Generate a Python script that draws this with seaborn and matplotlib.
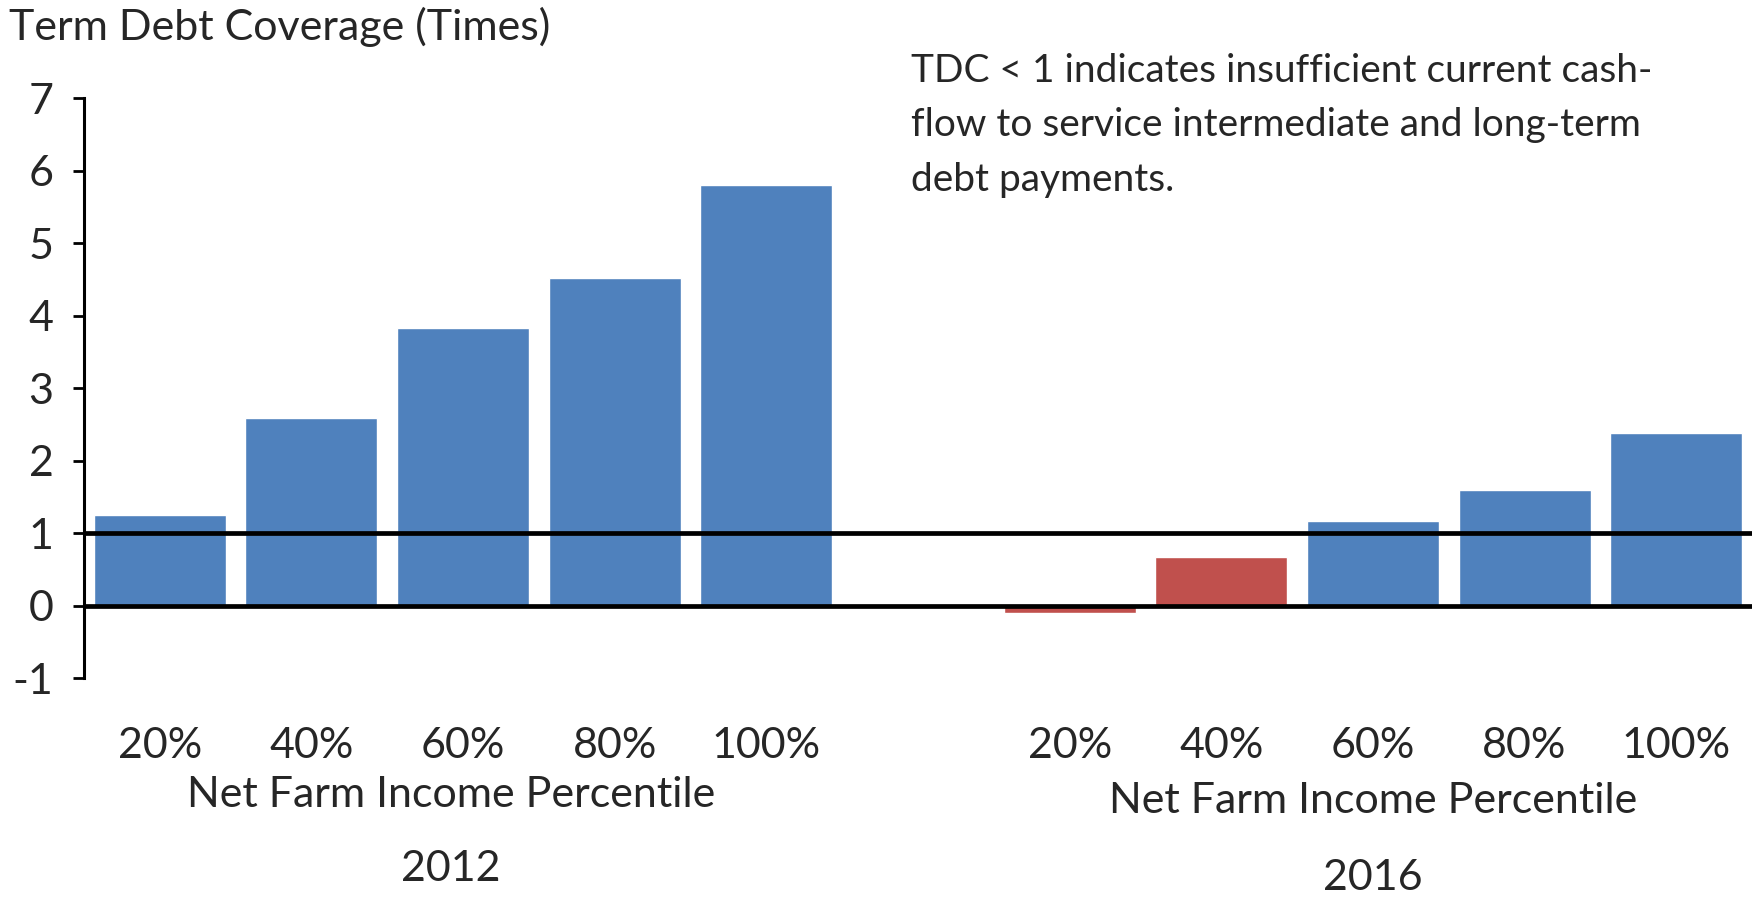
import matplotlib
matplotlib.use("Agg")
import matplotlib.pyplot as plt
import seaborn as sns
import pandas as pd

# ---- data ----
years = ["2012", "2016"]
percentiles = ["20%", "40%", "60%", "80%", "100%"]
tdc_2012 = [1.25, 2.58, 3.83, 4.52, 5.80]
tdc_2016 = [-0.10, 0.67, 1.17, 1.60, 2.38]
threshold = 1.0
y_ticks = [-1, 0, 1, 2, 3, 4, 5, 6, 7]
x_group_title = "Net Farm Income Percentile"
y_title = "Term Debt Coverage (Times)"
note = ("TDC < 1 indicates insufficient current cash-\n"
        "flow to service intermediate and long-term\n"
        "debt payments.")

BLUE = "#4F81BD"
RED = "#C0504D"

rows = []
for yr, vals in zip(years, [tdc_2012, tdc_2016]):
    for p, v in zip(percentiles, vals):
        rows.append({"slot": f"{yr} {p}", "pct": p, "year": yr, "value": v,
                     "status": "below" if v < threshold else "above"})
df = pd.DataFrame(rows)
order = [f"2012 {p}" for p in percentiles] + ["gap"] + [f"2016 {p}" for p in percentiles]

sns.set_theme(style="white")
plt.rcParams["font.family"] = ["Lato", "DejaVu Sans"]

fig = plt.figure(figsize=(17.52, 8.97), dpi=100)
ax = fig.add_axes([84 / 1752, 1 - 678 / 897, 1 - 84 / 1752, (678 - 98) / 897])

sns.barplot(data=df, x="slot", y="value", hue="status", order=order,
            palette={"above": BLUE, "below": RED}, dodge=False, width=0.87,
            saturation=1, legend=False, ax=ax, errorbar=None)

ax.set_xlim(-0.5, len(order) - 0.5)
ax.set_ylim(-1, 7)
ax.set_yticks(y_ticks)
ax.set_yticklabels([str(t) for t in y_ticks], fontsize=31)
ax.axhline(0, color="black", lw=3.4, zorder=3)
ax.axhline(threshold, color="black", lw=3.4, zorder=3)

for s in ["top", "right", "bottom"]:
    ax.spines[s].set_visible(False)
ax.spines["left"].set_color("black")
ax.spines["left"].set_linewidth(2.2)
ax.tick_params(axis="y", left=True, length=8, width=2, color="black", pad=14)
ax.tick_params(axis="x", bottom=False, length=0, pad=35)
ax.set_xticks(range(len(order)))
ax.set_xticklabels([s.split(" ")[1] if s != "gap" else "" for s in order], fontsize=31)
ax.set_xlabel("")
ax.set_ylabel("")

# group titles
title_y = [-2.62, -2.70]
year_y = [-3.64, -3.76]
for i, yr in enumerate(years):
    centre = order.index(f"{yr} 60%")
    off = -0.08 if i == 0 else 0
    ax.text(centre + off, title_y[i], x_group_title, ha="center", va="center", fontsize=31)
    ax.text(centre + off, year_y[i], yr, ha="center", va="center", fontsize=31)

fig.text(9 / 1752, 1 - 27 / 897, y_title, ha="left", va="center", fontsize=31)
fig.text(911 / 1752, 1 - 53 / 897, note, ha="left", va="top", fontsize=28,
         linespacing=1.63)

fig.savefig("out.png", dpi=100)
